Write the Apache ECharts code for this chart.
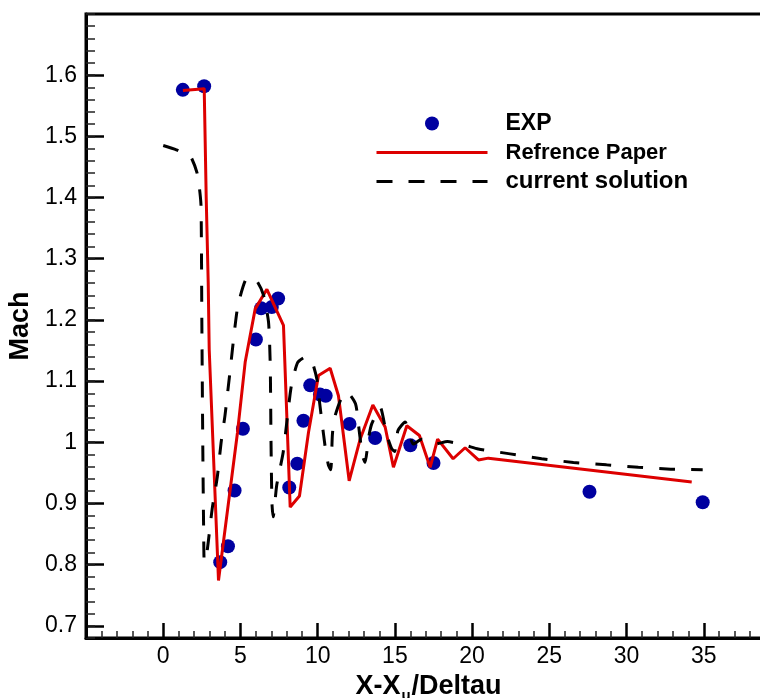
<!DOCTYPE html>
<html>
<head>
<meta charset="utf-8">
<script src="https://cdn.jsdelivr.net/npm/echarts@6/dist/echarts.min.js"></script>
<style>
  html, body { margin: 0; padding: 0; background: #fff; }
  #mach_chart { width: 760px; height: 698px; }
</style>
</head>
<body>
<div id="mach_chart"></div>
<script>
// EXP points
const expX = [1.27, 2.65, 3.69, 4.19, 4.62, 5.16, 6.0, 6.34, 7.03, 7.44, 8.16, 8.68, 9.08, 9.52, 10.15, 10.52, 12.06, 13.72, 16.0, 17.5, 27.6, 34.93];
const expY = [1.576, 1.582, 0.804, 0.830, 0.921, 1.022, 1.168, 1.219, 1.221, 1.235, 0.926, 0.965, 1.035, 1.093, 1.078, 1.076, 1.030, 1.007, 0.995, 0.966, 0.919, 0.902];

// Refrence Paper (red line)
const refX = [1.275, 2.654, 2.718, 2.783, 2.913, 2.977, 3.579, 4.809, 5.307, 5.955, 6.712, 7.786, 8.22, 8.822, 9.405, 10.052, 10.809, 11.346, 12.039, 12.751, 13.573, 14.369, 14.906, 15.773, 16.589, 17.282, 17.767, 18.77, 19.547, 20.408, 21.055, 34.22];
const refY = [1.575, 1.578, 1.49, 1.40, 1.261, 1.152, 0.774, 1.016, 1.131, 1.218, 1.25, 1.191, 0.894, 0.912, 1.016, 1.109, 1.121, 1.076, 0.937, 1.005, 1.061, 1.025, 0.959, 1.027, 1.011, 0.959, 1.005, 0.973, 0.991, 0.971, 0.974, 0.935];

// current solution (black dashed)
const curX = [0, 0.85, 1.5, 1.8, 2.18, 2.35, 2.45, 2.5, 2.56, 2.62, 2.66, 2.83, 3.17, 3.5, 3.75, 4.0, 4.3, 4.81, 5.31, 5.7, 6.1, 6.5, 6.82, 6.93, 6.98, 7.04, 7.12, 7.35, 7.77, 8.28, 8.7, 9.19, 9.6, 9.95, 10.1, 10.27, 10.5, 10.7, 10.85, 10.95, 11.07, 11.5, 11.9, 12.45, 12.65, 12.9, 13.07, 13.3, 13.5, 14.05, 14.45, 14.8, 14.98, 15.2, 15.66, 16.2, 16.74, 17.6, 18.4, 19.55, 20.4, 22.46, 24.5, 26.56, 28.7, 30.76, 32.86, 34.93];
const curY = [1.485, 1.478, 1.47, 1.466, 1.441, 1.414, 1.385, 1.2, 1.0, 0.85, 0.805, 0.82, 0.891, 0.943, 1.0, 1.044, 1.11, 1.22, 1.264, 1.27, 1.262, 1.24, 1.196, 1.125, 1.0, 0.9, 0.878, 0.93, 0.984, 1.09, 1.13, 1.139, 1.134, 1.103, 1.07, 1.035, 0.99, 0.962, 0.955, 1.011, 1.038, 1.07, 1.082, 1.063, 1.027, 0.978, 0.967, 1.008, 1.03, 1.057, 1.014, 0.989, 0.985, 1.019, 1.033, 0.997, 1.005, 0.997, 1.001, 0.995, 0.989, 0.981, 0.973, 0.967, 0.963, 0.959, 0.956, 0.955];

// axes
const xMin = -5, xMax = 40, xStep = 5;
const yMin = 0.68, yMax = 1.70, yMinorStep = 0.02;

const zip = (xs, ys) => xs.map((x, i) => [x, ys[i]]);
const FONT = 'Liberation Sans';
const hideIcon = { color: 'rgba(0,0,0,0)', opacity: 0, borderWidth: 0 };

const chartInstance = echarts.init(document.getElementById('mach_chart'));
chartInstance.setOption({
  animation: false,
  grid: {
    left: 86, right: -21, top: 14, bottom: 60,
    show: true, borderColor: '#000', borderWidth: 3,
    outerBoundsMode: 'none'
  },
  legend: {
    orient: 'vertical',
    left: 375,
    top: 109,
    padding: 0,
    itemWidth: 111,
    itemHeight: 14,
    itemGap: 0,
    lineStyle: { width: 3 },
    textStyle: { color: '#000', fontFamily: FONT, fontWeight: 'bold', padding: [0, 0, 0, 13] },
    data: [
      { name: 'EXP', textStyle: { fontSize: 23, lineHeight: 29 } },
      { name: 'Refrence Paper', itemStyle: hideIcon, textStyle: { fontSize: 22, lineHeight: 29 } },
      { name: 'current solution', itemStyle: hideIcon, textStyle: { fontSize: 24, lineHeight: 29 } }
    ]
  },
  xAxis: {
    type: 'value',
    min: xMin, max: xMax, interval: xStep,
    axisLine: { onZero: false, lineStyle: { color: '#000', width: 3 } },
    axisTick: { inside: true, length: 15, lineStyle: { color: '#000', width: 2.5 } },
    minorTick: { show: true, splitNumber: 5, length: 7, lineStyle: { color: '#222', width: 1.5 } },
    splitLine: { show: false },
    axisLabel: {
      color: '#000', fontFamily: FONT, fontSize: 23, margin: 7,
      formatter: v => (v < 0 || v > 35) ? '' : String(v)
    },
    name: '{a|X-X}{s|u}{a|/Deltau}',
    nameLocation: 'middle',
    nameGap: 29,
    nameTextStyle: {
      padding: [0, 10, 0, 0],
      rich: {
        a: { fontSize: 27, fontWeight: 'bold', fontFamily: FONT, color: '#000', verticalAlign: 'top', lineHeight: 30 },
        s: { fontSize: 15, fontWeight: 'bold', fontFamily: FONT, color: '#000', verticalAlign: 'top', lineHeight: 15, padding: [15, 1, 0, 1] }
      }
    }
  },
  yAxis: [
    {
      type: 'value',
      min: yMin, max: yMax, splitNumber: 10,
      axisLine: { onZero: false, lineStyle: { color: '#000', width: 3 } },
      axisTick: { inside: true, length: 18, lineStyle: { color: '#000', width: 2.5 } },
      splitLine: { show: false },
      axisLabel: { color: '#000', fontFamily: FONT, fontSize: 23, margin: 9, showMinLabel: false, showMaxLabel: false },
      name: 'Mach',
      nameLocation: 'middle',
      nameGap: 50,
      nameTextStyle: { fontSize: 27, fontWeight: 'bold', fontFamily: FONT, color: '#000' }
    },
    {
      // minor ticks only
      type: 'value',
      position: 'left',
      min: yMin, max: yMax, interval: yMinorStep,
      axisLine: { show: false, onZero: false },
      axisTick: { inside: true, length: 9, lineStyle: { color: '#222', width: 1.5 } },
      axisLabel: { show: false },
      splitLine: { show: false }
    }
  ],
  series: [
    {
      name: 'EXP',
      type: 'scatter',
      symbol: 'circle',
      symbolSize: 14,
      itemStyle: { color: '#0000A0', opacity: 1 },
      data: zip(expX, expY),
      z: 2
    },
    {
      name: 'Refrence Paper',
      type: 'line',
      symbol: 'none',
      lineStyle: { color: '#DD0000', width: 3 },
      itemStyle: { color: '#DD0000' },
      data: zip(refX, refY),
      z: 3
    },
    {
      name: 'current solution',
      type: 'line',
      symbol: 'none',
      smooth: 0.2,
      lineStyle: { color: '#000', width: 3, type: [16, 16] },
      itemStyle: { color: '#000' },
      data: zip(curX, curY),
      z: 4
    }
  ]
});
</script>
</body>
</html>
